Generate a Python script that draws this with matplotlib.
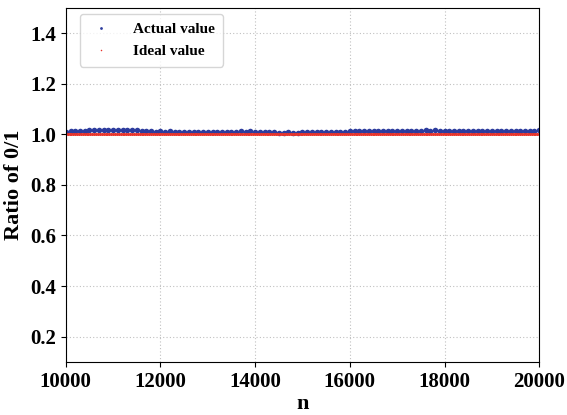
import numpy as np
import matplotlib
matplotlib.use('Agg')
import matplotlib.pyplot as plt

# n values sampled every 100 steps for the measured ratio
n = np.arange(10000, 20001, 100)

actual = [1.011, 1.012, 1.013, 1.014, 1.015, 1.016,
          1.017, 1.018, 1.018, 1.019, 1.018, 1.019, 1.018, 1.017,
          1.016, 1.017, 1.015, 1.013, 1.012, 1.011, 1.012,
          1.011, 1.012, 1.011, 1.010, 1.009, 1.008, 1.008, 1.009, 1.008, 1.009,
          1.009, 1.010, 1.009, 1.010, 1.011, 1.011, 1.012, 1.011, 1.012, 1.011,
          1.010, 1.009, 1.009, 1.008, 1.007, 1.007, 1.008, 1.007, 1.007, 1.008,
          1.008, 1.009, 1.009, 1.010, 1.010, 1.011, 1.011, 1.010, 1.011, 1.012,
          1.013, 1.012, 1.013, 1.012, 1.013, 1.012, 1.013, 1.013, 1.012, 1.013,
          1.014, 1.013, 1.014, 1.015, 1.015, 1.016, 1.015, 1.016, 1.015, 1.014,
          1.013, 1.014, 1.013, 1.012, 1.013, 1.013, 1.012, 1.013, 1.012, 1.013,
          1.013, 1.012, 1.013, 1.014, 1.013, 1.014, 1.015, 1.014, 1.015, 1.016]

# ideal ratio is constant
n_ideal = np.arange(10000, 20001, 40)
ideal = [1.0] * len(n_ideal)

plt.rcParams['font.family'] = 'Liberation Serif'
plt.rcParams['font.weight'] = 'bold'

fig = plt.figure(figsize=(5.67, 4.15), dpi=100)
ax = fig.add_axes([0.116, 0.128, 0.835, 0.853])

ax.plot(n, actual, 'o', color='#2d3c9e', ms=4.0, mec='none', label='Actual value')
ax.plot(n_ideal, ideal, 'o', color='#e8352c', ms=2.2, mec='none', label='Ideal value')

ax.set_xlim(10000, 20000)
ax.set_ylim(0.1, 1.5)
ax.set_xticks(range(10000, 20001, 2000))
ax.set_yticks([0.2, 0.4, 0.6, 0.8, 1.0, 1.2, 1.4])
ax.tick_params(labelsize=15)
for lbl in ax.get_xticklabels() + ax.get_yticklabels():
    lbl.set_fontweight('bold')
ax.grid(True, linestyle=(0, (1, 2)), color='#c0c0c0', linewidth=0.8)
ax.set_xlabel('n', fontsize=16, fontweight='bold', labelpad=2)
ax.set_ylabel('Ratio of 0/1', fontsize=16, fontweight='bold')

leg = ax.legend(loc='upper left', bbox_to_anchor=(0.03, 0.983), markerscale=0.5,
                borderpad=0.55, labelspacing=0.55, handletextpad=1.3,
                borderaxespad=0, handlelength=1.6,
                prop={'weight': 'bold', 'size': 11})
leg.get_frame().set_edgecolor('#cccccc')

fig.savefig('out.png', dpi=100)
